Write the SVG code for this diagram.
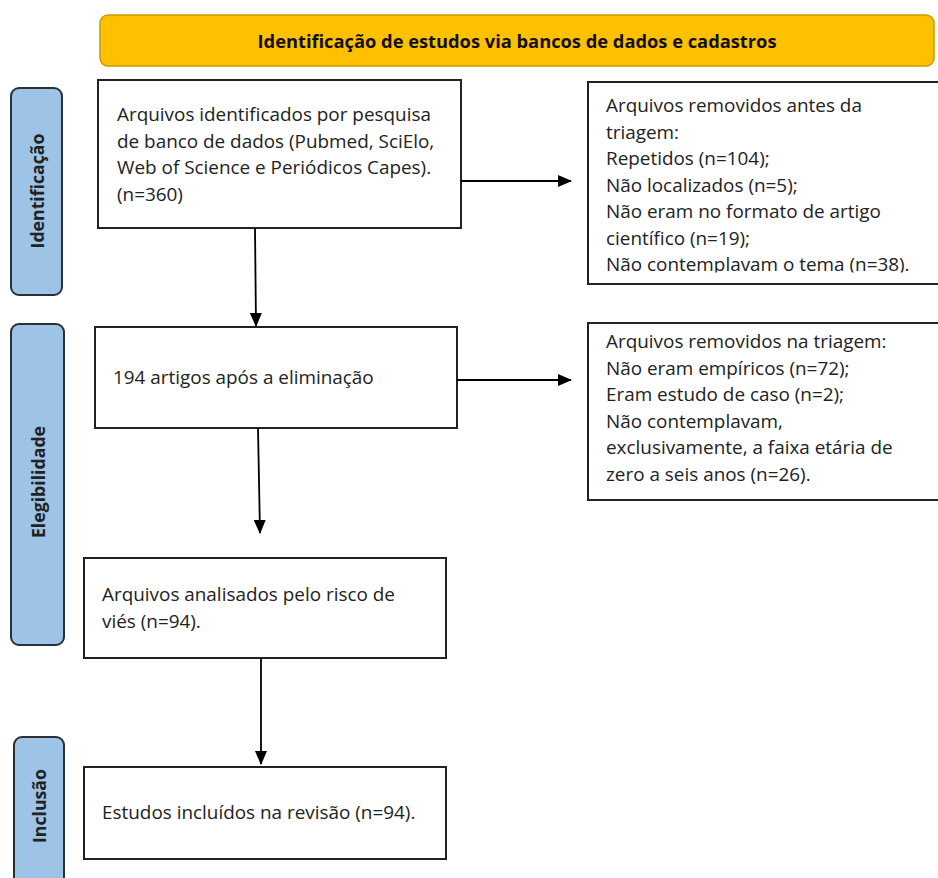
<svg xmlns="http://www.w3.org/2000/svg" width="938" height="878" viewBox="0 0 938 878">
<defs>
<marker id="ah" markerWidth="14" markerHeight="12" refX="13" refY="6" orient="auto" markerUnits="userSpaceOnUse">
<path d="M0,0 L14,6 L0,12 Z" fill="#000"/>
</marker>
<clipPath id="cp2"><rect x="588" y="82" width="360" height="190.5"/></clipPath>
<style>
.box{fill:#fff;stroke:#222;stroke-width:2}
.side{fill:#9DC3E6;stroke:#2b2f36;stroke-width:2}
.t{font-family:"Open Sans","Noto Sans","Liberation Sans",sans-serif;font-size:18.9px;fill:#222}
.sl{font-family:"Open Sans","Noto Sans","Liberation Sans",sans-serif;font-size:17.7px;font-weight:bold;fill:#222;text-anchor:middle}
.ban{font-family:"Open Sans","Noto Sans","Liberation Sans",sans-serif;font-size:18.3px;font-weight:bold;fill:#111;text-anchor:middle}
.c{stroke:#000;stroke-width:1.8;fill:none}
</style>
</defs>
<rect width="938" height="878" fill="#fff"/>

<g id="banner">
<rect x="100" y="15" width="834" height="51" rx="8" fill="#FFC000" stroke="#C99A00" stroke-width="1.5"/>
<text class="ban" x="517" y="48">Identificação de estudos via bancos de dados e cadastros</text>
</g>

<g id="side-identificacao">
<rect class="side" x="11" y="88" width="51" height="207" rx="8"/>
<text class="sl" transform="translate(44,191) rotate(-90)">Identificação</text>
</g>
<g id="side-elegibilidade">
<rect class="side" x="11" y="324" width="53" height="321" rx="8"/>
<text class="sl" transform="translate(45,482) rotate(-90)">Elegibilidade</text>
</g>
<g id="side-inclusao">
<rect class="side" x="14" y="737" width="50" height="160" rx="8"/>
<text class="sl" transform="translate(46,806) rotate(-90)">Inclusão</text>
</g>

<g id="n1">
<rect class="box" x="98" y="80" width="363" height="148"/>
<text class="t"><tspan x="117" y="121">Arquivos identificados por pesquisa</tspan><tspan x="117" y="147.5">de banco de dados (Pubmed, SciElo,</tspan><tspan x="117" y="174">Web of Science e Periódicos Capes).</tspan><tspan x="117" y="200.5">(n=360)</tspan></text>
</g>

<g id="n2">
<rect class="box" x="588" y="82" width="360" height="202"/>
<text class="t" clip-path="url(#cp2)"><tspan x="606" y="112">Arquivos removidos antes da</tspan><tspan x="606" y="138.5">triagem:</tspan><tspan x="606" y="165">Repetidos (n=104);</tspan><tspan x="606" y="191.5">Não localizados (n=5);</tspan><tspan x="606" y="218">Não eram no formato de artigo</tspan><tspan x="606" y="244.5">científico (n=19);</tspan><tspan x="606" y="271">Não contemplavam o tema (n=38).</tspan></text>
</g>

<g id="n3">
<rect class="box" x="95" y="327" width="362" height="101"/>
<text class="t" x="113" y="384">194 artigos após a eliminação</text>
</g>

<g id="n4">
<rect class="box" x="588" y="323" width="360" height="177"/>
<text class="t"><tspan x="606" y="348">Arquivos removidos na triagem:</tspan><tspan x="606" y="374.5">Não eram empíricos (n=72);</tspan><tspan x="606" y="401">Eram estudo de caso (n=2);</tspan><tspan x="606" y="427.5">Não contemplavam,</tspan><tspan x="606" y="454">exclusivamente, a faixa etária de</tspan><tspan x="606" y="480.5">zero a seis anos (n=26).</tspan></text>
</g>

<g id="n5">
<rect class="box" x="84" y="558" width="362" height="100"/>
<text class="t"><tspan x="102" y="601">Arquivos analisados pelo risco de</tspan><tspan x="102" y="627.5">viés (n=94).</tspan></text>
</g>

<g id="n6">
<rect class="box" x="84" y="767" width="362" height="92"/>
<text class="t" x="102" y="819">Estudos incluídos na revisão (n=94).</text>
</g>

<g id="connectors">
<line class="c" x1="461" y1="181" x2="571" y2="181" marker-end="url(#ah)"/>
<line class="c" x1="255" y1="228" x2="256" y2="326" marker-end="url(#ah)"/>
<line class="c" x1="457" y1="380" x2="571" y2="380" marker-end="url(#ah)"/>
<line class="c" x1="258" y1="428" x2="260" y2="533" marker-end="url(#ah)"/>
<line class="c" x1="261" y1="658" x2="261" y2="764" marker-end="url(#ah)"/>
</g>
</svg>
